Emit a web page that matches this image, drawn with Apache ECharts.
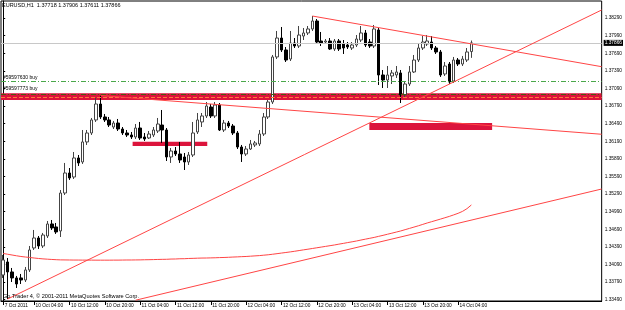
<!DOCTYPE html>
<html><head><meta charset="utf-8">
<script src="https://cdn.jsdelivr.net/npm/echarts@6/dist/echarts.min.js"></script>
<style>html,body{margin:0;padding:0;background:#fff}#c{width:625px;height:310px}</style>
</head><body><div id="c"></div>
<script>
const chartTitle = 'EURUSD,H1  1.37718 1.37906 1.37611 1.37866';
const copyright = 'Go Trader 4, \u00a9 2001-2011 MetaQuotes Software Corp.';
const slotCount = 136;
const tickIndex = [0,7,15,23,31,39,47,55,63,71,79,87,95,103];
const tickLabels = ['7 Oct 2011','10 Oct 04:00','10 Oct 12:00','10 Oct 20:00','11 Oct 04:00','11 Oct 12:00','11 Oct 20:00','12 Oct 04:00','12 Oct 12:00','12 Oct 20:00','13 Oct 04:00','13 Oct 12:00','13 Oct 20:00','14 Oct 04:00'];
const yTicks = [1.33490,1.33790,1.34090,1.34390,1.34690,1.34990,1.35290,1.35590,1.35890,1.36190,1.36490,1.36790,1.37090,1.37390,1.37690,1.37990,1.38290];

const open = [1.33910,1.34131,1.33961,1.33859,1.33859,1.33824,1.33995,1.34370,1.34540,1.34404,
1.34574,1.34779,1.34728,1.34660,1.35307,1.35648,1.35580,1.35904,1.35836,1.36177,
1.36330,1.36552,1.36824,1.36603,1.36552,1.36432,1.36500,1.36398,1.36330,1.36296,
1.36262,1.36415,1.36262,1.36245,1.36296,1.36364,1.36466,1.36381,1.35921,1.36023,
1.35972,1.35921,1.35836,1.35955,1.36347,1.36518,1.36620,1.36773,1.36620,1.36807,
1.36381,1.36500,1.36449,1.36330,1.36091,1.35972,1.36057,1.36126,1.36143,1.36313,
1.36603,1.36858,1.37626,1.37949,1.37745,1.37591,1.37864,1.37813,1.37983,1.38035,
1.38103,1.38239,1.37898,1.37881,1.37898,1.37762,1.37898,1.37847,1.37830,1.37779,
1.37830,1.37915,1.38035,1.37881,1.37813,1.38086,1.37319,1.37233,1.37302,1.37319,
1.37353,1.36978,1.37165,1.37370,1.37574,1.37779,1.37847,1.37881,1.37779,1.37711,
1.37336,1.37506,1.37216,1.37574,1.37506,1.37574,1.37718];
const close = [1.34165,1.33961,1.33859,1.33756,1.33824,1.33995,1.34336,1.34540,1.34404,1.34591,
1.34779,1.34711,1.34643,1.35307,1.35648,1.35563,1.35904,1.35819,1.36177,1.36330,
1.36552,1.36824,1.36603,1.36552,1.36466,1.36500,1.36398,1.36330,1.36296,1.36262,
1.36415,1.36245,1.36228,1.36313,1.36381,1.36483,1.36381,1.35921,1.36023,1.35972,
1.35870,1.35836,1.35955,1.36330,1.36552,1.36620,1.36790,1.36620,1.36807,1.36381,
1.36500,1.36449,1.36330,1.36091,1.35972,1.36057,1.36143,1.36160,1.36313,1.36603,
1.36858,1.37626,1.37949,1.37745,1.37574,1.37864,1.37813,1.38000,1.38035,1.38103,
1.38239,1.37881,1.37864,1.37898,1.37762,1.37898,1.37762,1.37779,1.37796,1.37830,
1.37932,1.38035,1.37830,1.37813,1.38103,1.37319,1.37233,1.37319,1.37353,1.37370,
1.36978,1.37165,1.37370,1.37574,1.37779,1.37881,1.37898,1.37779,1.37711,1.37319,
1.37472,1.37199,1.37574,1.37506,1.37591,1.37711,1.37866];
const low = [1.33859,1.33500,1.33790,1.33688,1.33756,1.33790,1.33961,1.34336,1.34353,1.34370,
1.34540,1.34677,1.34609,1.34557,1.35273,1.35529,1.35546,1.35768,1.35802,1.36126,
1.36296,1.36518,1.36569,1.36518,1.36432,1.36398,1.36364,1.36296,1.36262,1.36228,
1.36228,1.36211,1.36194,1.36228,1.36262,1.36330,1.36160,1.35853,1.35819,1.35938,
1.35819,1.35699,1.35785,1.35921,1.36313,1.36432,1.36586,1.36586,1.36586,1.36364,
1.36347,1.36415,1.36296,1.36057,1.35836,1.35938,1.36040,1.36091,1.36108,1.36279,
1.36569,1.36824,1.37591,1.37711,1.37540,1.37557,1.37779,1.37779,1.37915,1.38000,
1.38069,1.37847,1.37813,1.37847,1.37745,1.37728,1.37728,1.37677,1.37762,1.37745,
1.37796,1.37881,1.37796,1.37779,1.37779,1.37148,1.37097,1.37097,1.37165,1.37268,
1.36841,1.36927,1.37131,1.37353,1.37540,1.37745,1.37813,1.37745,1.37677,1.37285,
1.37302,1.37165,1.37182,1.37472,1.37472,1.37540,1.37611];
const high = [1.34250,1.34199,1.34029,1.33893,1.33927,1.34046,1.34404,1.34677,1.34574,1.34626,
1.34830,1.34847,1.34796,1.35358,1.35819,1.35733,1.36006,1.35955,1.36381,1.36381,
1.36586,1.36927,1.36978,1.36654,1.36603,1.36535,1.36569,1.36432,1.36381,1.36347,
1.36483,1.36518,1.36330,1.36364,1.36432,1.36586,1.36722,1.36415,1.36074,1.36091,
1.36177,1.35989,1.36006,1.36518,1.36671,1.36671,1.36858,1.36824,1.36858,1.36841,
1.36552,1.36535,1.36483,1.36364,1.36126,1.36108,1.36211,1.36194,1.36381,1.36671,
1.36893,1.37660,1.38069,1.38137,1.37796,1.38069,1.37949,1.38154,1.38120,1.38154,
1.38324,1.38273,1.38052,1.37932,1.37949,1.37932,1.37932,1.37915,1.37881,1.37881,
1.38000,1.38154,1.38086,1.37932,1.38171,1.38120,1.37404,1.37472,1.37404,1.37472,
1.37404,1.37199,1.37472,1.37660,1.37847,1.37983,1.38000,1.37983,1.37813,1.37745,
1.37540,1.37540,1.37626,1.37608,1.37643,1.37779,1.37906];
const maLine = [1.34276,1.34263,1.34250,1.34237,1.34225,1.34216,1.34208,1.34199,1.34191,1.34184,
1.34179,1.34174,1.34170,1.34167,1.34166,1.34165,1.34164,1.34164,1.34163,1.34163,
1.34163,1.34162,1.34162,1.34162,1.34162,1.34163,1.34163,1.34164,1.34165,1.34165,
1.34166,1.34167,1.34169,1.34170,1.34172,1.34174,1.34176,1.34177,1.34181,1.34182,
1.34186,1.34187,1.34191,1.34193,1.34196,1.34198,1.34199,1.34201,1.34203,1.34206,
1.34208,1.34211,1.34215,1.34218,1.34222,1.34225,1.34230,1.34235,1.34240,1.34247,
1.34254,1.34263,1.34273,1.34283,1.34293,1.34303,1.34314,1.34326,1.34338,1.34349,
1.34361,1.34373,1.34385,1.34397,1.34409,1.34421,1.34435,1.34448,1.34462,1.34475,
1.34489,1.34505,1.34520,1.34535,1.34550,1.34568,1.34585,1.34604,1.34622,1.34641,
1.34660,1.34682,1.34704,1.34726,1.34748,1.34772,1.34796,1.34818,1.34840,1.34862,
1.34885,1.34908,1.34934,1.34961,1.34994,1.35040,1.35103];

// trend lines: [barIndex, price] pairs
const trendA = [[70,1.38324],[135.5,1.37460]];
const trendB = [[1,1.33500],[135.5,1.38427]];
const trendC = [[22,1.36969],[135.5,1.36308]];
const trendD = [[30,1.33480],[135.5,1.35375]];
// rectangles: [bar1, bar2, price1, price2]
const rectBand = [-0.5,135.5,1.36893,1.37007];
const rect1 = [29.3,46.2,1.36108,1.36181];
const rect2 = [82.9,110.7,1.36381,1.36500];
// horizontal levels
const bidPrice = 1.37866;
const order1Price = 1.37216, order1Text = '#59597630 buy';
const order2Price = 1.36986, order2Text = '#59597773 buy';
const stopPrice = 1.36935;

const FONT = 'Liberation Sans';
const categories = Array.from({length: slotCount}, (_, i) => String(i));
const labelMap = {};
tickIndex.forEach((k, j) => { labelMap[k] = tickLabels[j]; });
const isTick = (i) => labelMap[i] !== undefined;
const candleData = open.map((o, i) => [o, close[i], low[i], high[i]]);

const chart = echarts.init(document.getElementById('c'), null, {renderer: 'canvas'});
const lineSeries = (d) => ({
  type: 'line', xAxisIndex: 1, yAxisIndex: 0, data: d, symbol: 'none', silent: true,
  lineStyle: {color: '#ff4545', width: 1}, z: 5, clip: true, animation: false
});
chart.setOption({
  animation: false,
  backgroundColor: '#ffffff',
  title: [
    {text: chartTitle, left: 2, top: 2, padding: 0, textStyle: {fontFamily: FONT, fontSize: 5.5, fontWeight: 'normal', color: '#000'}},
    {text: copyright, left: 3, top: 293, padding: 0, textStyle: {fontFamily: FONT, fontSize: 5.6, fontWeight: 'normal', color: '#000'}}
  ],
  grid: {left: 1, right: 21, top: 1, bottom: 9, show: true, borderColor: '#000', borderWidth: 1, backgroundColor: '#fff'},
  xAxis: [
    {type: 'category', data: categories, boundaryGap: true,
     axisLine: {lineStyle: {color: '#000', width: 1}},
     axisTick: {show: true, interval: (i) => isTick(i), alignWithLabel: true, length: 4, lineStyle: {color: '#000'}},
     axisLabel: {interval: (i) => isTick(i), formatter: (v, i) => labelMap[i] || '', align: 'left', margin: 2,
                 padding: [0,0,0,1.5], fontFamily: FONT, fontSize: 4.8, color: '#000', hideOverlap: false},
     splitLine: {show: false}},
    {type: 'value', min: -0.5, max: slotCount - 0.5, show: false}
  ],
  yAxis: [{
    type: 'value', position: 'right', min: 1.33466, max: 1.38580, scale: true,
    axisLine: {show: true, lineStyle: {color: '#000'}},
    axisTick: {show: true, customValues: yTicks, length: 2, lineStyle: {color: '#000'}},
    axisLabel: {customValues: yTicks, formatter: (v) => v.toFixed(5), margin: 3, fontFamily: FONT, fontSize: 4.8, color: '#000'},
    splitLine: {show: false}
  }],
  series: [
    {type: 'custom', xAxisIndex: 1, yAxisIndex: 0, silent: true, z: 1, clip: true,
     data: [rectBand, rect1, rect2],
     encode: {x: [0, 1], y: [2, 3]},
     renderItem: (params, api) => {
       const p1 = api.coord([api.value(0), api.value(3)]);
       const p2 = api.coord([api.value(1), api.value(2)]);
       const r = echarts.graphic.clipRectByRect({x: p1[0], y: p1[1], width: p2[0] - p1[0], height: p2[1] - p1[1]},
         {x: params.coordSys.x, y: params.coordSys.y, width: params.coordSys.width, height: params.coordSys.height});
       return r && {type: 'rect', shape: r, style: {fill: '#dc143c'}};
     }},
    {type: 'candlestick', xAxisIndex: 0, yAxisIndex: 0, data: candleData, barWidth: 3, z: 3, silent: true,
     itemStyle: {color: '#ffffff', color0: '#000000', borderColor: '#444444', borderColor0: '#000000', borderWidth: 1},
     markLine: {
       silent: true, symbol: 'none', animation: false, precision: 5,
       data: [
         {yAxis: bidPrice, lineStyle: {color: '#c8c8c8', width: 1, type: 'solid'},
          label: {show: true, position: 'end', formatter: bidPrice.toFixed(5), backgroundColor: '#000', color: '#fff',
                  padding: [1, 1, 0, 1], distance: 2, fontFamily: FONT, fontSize: 4.8}},
         {yAxis: order1Price, lineStyle: {color: '#4aa84a', width: 1, type: [5, 2, 1, 2]},
          label: {show: true, position: 'insideStartTop', formatter: order1Text, distance: [2, 1], color: '#000', fontFamily: FONT, fontSize: 5}},
         {yAxis: order2Price, lineStyle: {color: '#4a5a10', width: 1, type: [5, 2, 1, 2]},
          label: {show: true, position: 'insideStartTop', formatter: order2Text, distance: [2, 3], color: '#000', fontFamily: FONT, fontSize: 5}},
         {yAxis: stopPrice, lineStyle: {color: '#ff7a3a', width: 1, type: [4, 2]}, label: {show: false}}
       ]
     }},
    {type: 'line', xAxisIndex: 0, yAxisIndex: 0, data: maLine, symbol: 'none', silent: true,
     lineStyle: {color: '#ff4545', width: 1}, z: 5},
    lineSeries(trendA), lineSeries(trendB), lineSeries(trendC), lineSeries(trendD)
  ]
});
</script></body></html>
